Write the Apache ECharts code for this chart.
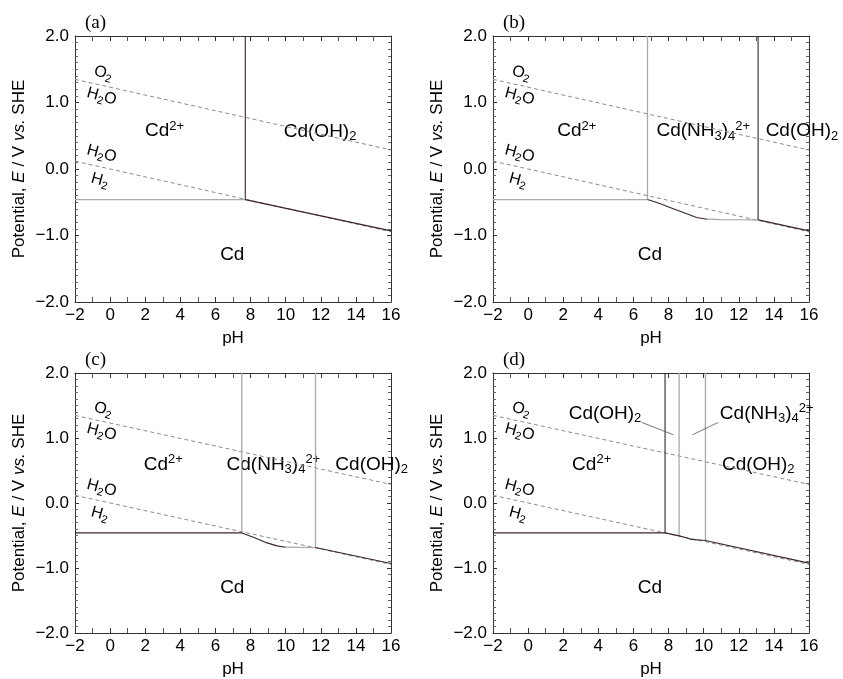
<!DOCTYPE html>
<html>
<head>
<meta charset="utf-8">
<style>
  html, body { margin: 0; padding: 0; background: #fff; }
  #main { width: 843px; height: 679px; }
</style>
<script src="https://cdn.jsdelivr.net/npm/echarts@6/dist/echarts.min.js"></script>
</head>
<body>
<div id="main"></div>
<script>
// water stability lines
var o2Line = [[-2, 1.348], [16, 0.286]];
var h2Line = [[-2, 0.118], [16, -0.944]];
var waterLabels = [
    [-0.39, 1.44, 'O{ws|2}'],
    [-0.48, 1.09, 'H{ws|2}O'],
    [-0.48, 0.23, 'H{ws|2}O'],
    [-0.58, -0.17, 'H{ws|2}']
];

// (a)
var aGray = [[[-2, -0.46], [7.7, -0.46]]];
var aDark = [[[7.7, -0.46], [7.7, 2]], [[7.7, -0.46], [16, -0.93]]];
var aLabels = [[3.1, 0.57, 'Cd{sup|2+}'], [11.96, 0.56, 'Cd(OH){sub|2}'], [6.96, -1.29, 'Cd']];

// (b)
var bGray = [[[-2, -0.46], [6.8, -0.46]], [[6.8, -0.46], [6.8, 2]], [[10.2, -0.755], [11, -0.76], [13.1, -0.765]]];
var bDark = [
    [[6.8, -0.46], [7.5, -0.52], [8.3, -0.6], [9.0, -0.67], [9.6, -0.73], [10.2, -0.755]],
    [[13.1, -0.765], [13.1, 2]],
    [[13.1, -0.765], [16, -0.93]]
];
var bLabels = [[2.77, 0.57, 'Cd{sup|2+}'], [9.98, 0.57, 'Cd(NH{sub|3}){sub|4}{sup|2+}'], [15.6, 0.57, 'Cd(OH){sub|2}'], [6.94, -1.29, 'Cd']];

// (c)
var cGray = [[[7.5, -0.46], [7.5, 2]], [[11.7, -0.685], [11.7, 2]], [[10.0, -0.68], [11.7, -0.685]]];
var cDark = [
    [[-2, -0.46], [7.5, -0.46]],
    [[7.5, -0.46], [8.2, -0.53], [8.9, -0.61], [9.5, -0.66], [10.0, -0.68]],
    [[11.7, -0.685], [16, -0.93]]
];
var cLabels = [[3.03, 0.59, 'Cd{sup|2+}'], [9.3, 0.59, 'Cd(NH{sub|3}){sub|4}{sup|2+}'], [14.9, 0.59, 'Cd(OH){sub|2}'], [6.96, -1.3, 'Cd']];

// (d)
var dGray = [[[8.6, -0.506], [8.6, 2]], [[10.1, -0.578], [10.1, 2]]];
var dDark = [
    [[-2, -0.46], [7.8, -0.46]],
    [[7.8, -0.46], [7.8, 2]],
    [[7.8, -0.46], [8.6, -0.506], [9.0, -0.535], [9.3, -0.56], [10.1, -0.578], [16, -0.925]]
];
var dLeaders = [[[6.47, 1.24], [8.27, 1.05]], [[10.83, 1.24], [9.37, 1.05]]];
var dLabels = [[4.38, 1.38, 'Cd(OH){sub|2}'], [13.59, 1.38, 'Cd(NH{sub|3}){sub|4}{sup|2+}'], [3.62, 0.59, 'Cd{sup|2+}'], [13.11, 0.59, 'Cd(OH){sub|2}'], [6.94, -1.3, 'Cd']];

var panelNames = ['(a)', '(b)', '(c)', '(d)'];
var grids = [
    {left: 75, top: 36, width: 316, height: 266},
    {left: 493, top: 36, width: 316, height: 266},
    {left: 75, top: 373, width: 316, height: 265},
    {left: 493, top: 373, width: 316, height: 265}
];

var FONT = 'Liberation Sans';
var DARK = '#3a2424';
var GRAY = '#aaaaaa';
var INK = '#000';

function minus(v, digits) {
    var s = digits ? Math.abs(v).toFixed(digits) : String(Math.abs(v));
    return v < 0 ? '\u2212' + s : s;
}

var xAxes = [], yAxes = [], series = [], titles = [];

grids.forEach(function (g, i) {
    titles.push({
        text: panelNames[i], left: g.left + 5, top: g.top - 27,
        textStyle: {fontFamily: 'Liberation Serif', fontWeight: 'normal', fontSize: 19, color: INK}
    });
    var lineCfg = {onZero: false, lineStyle: {color: '#333', width: 1}};
    xAxes.push({
        type: 'value', gridIndex: i, min: -2, max: 16, interval: 2, position: 'bottom',
        name: 'pH', nameLocation: 'middle', nameGap: 28,
        nameTextStyle: {fontFamily: FONT, fontSize: 17, color: INK},
        axisLine: lineCfg,
        axisTick: {inside: true, length: 5, lineStyle: {color: '#333'}},
        minorTick: {show: true, splitNumber: 2, length: 5, lineStyle: {color: '#555'}},
        axisLabel: {fontFamily: FONT, fontSize: 17, color: INK, margin: 5, formatter: function (v) { return minus(v); }},
        splitLine: {show: false}
    });
    xAxes.push({
        type: 'value', gridIndex: i, min: -2, max: 16, interval: 2, position: 'top',
        axisLine: lineCfg,
        axisTick: {inside: true, length: 5, lineStyle: {color: '#333'}},
        minorTick: {show: true, splitNumber: 2, length: 5, lineStyle: {color: '#555'}},
        axisLabel: {show: false}, splitLine: {show: false}
    });
    yAxes.push({
        type: 'value', gridIndex: i, min: -2, max: 2, interval: 1, position: 'left',
        name: 'Potential, {i|E} / V {i|vs.} SHE', nameLocation: 'middle', nameGap: 47,
        nameTextStyle: {fontFamily: FONT, fontSize: 17, color: INK,
            rich: {i: {fontFamily: FONT, fontSize: 17, fontStyle: 'italic', color: INK}}},
        axisLine: lineCfg,
        axisTick: {inside: true, length: 4, lineStyle: {color: '#333'}},
        minorTick: {show: true, splitNumber: 10, length: 3, lineStyle: {color: '#666'}},
        axisLabel: {fontFamily: FONT, fontSize: 17, color: INK, margin: 6, formatter: function (v) { return minus(v, 1); }},
        splitLine: {show: false}
    });
    yAxes.push({
        type: 'value', gridIndex: i, min: -2, max: 2, interval: 1, position: 'right',
        axisLine: lineCfg,
        axisTick: {inside: true, length: 4, lineStyle: {color: '#333'}},
        minorTick: {show: true, splitNumber: 10, length: 3, lineStyle: {color: '#666'}},
        axisLabel: {show: false}, splitLine: {show: false}
    });
});

function lineSeries(i, pts, style) {
    return {
        type: 'line', xAxisIndex: 2 * i, yAxisIndex: 2 * i, data: pts,
        symbol: 'none', silent: true, animation: false, lineStyle: style
    };
}

var richMain = {
    sub: {fontFamily: FONT, fontSize: 13, color: INK, verticalAlign: 'bottom', lineHeight: 11, textBorderWidth: 0},
    sup: {fontFamily: FONT, fontSize: 13, color: INK, verticalAlign: 'top', lineHeight: 9, textBorderWidth: 0}
};
var richWater = {
    ws: {fontFamily: FONT, fontSize: 11, color: INK, verticalAlign: 'bottom', lineHeight: 10, textBorderWidth: 0}
};

function labelSeries(i, items, size, rich, rotate) {
    return {
        type: 'scatter', xAxisIndex: 2 * i, yAxisIndex: 2 * i, symbolSize: 0, silent: true, animation: false,
        itemStyle: {color: INK, opacity: 1},
        data: items.map(function (d) {
            return {value: [d[0], d[1]], label: {formatter: d[2]}};
        }),
        label: {
            show: true, position: 'inside', rotate: rotate || 0, opacity: 1,
            fontFamily: FONT, fontSize: size, color: INK, textBorderWidth: 0,
            lineHeight: size + 4, rich: rich
        }
    };
}

var panels = [
    {gray: aGray, dark: aDark, labels: aLabels, leaders: []},
    {gray: bGray, dark: bDark, labels: bLabels, leaders: []},
    {gray: cGray, dark: cDark, labels: cLabels, leaders: []},
    {gray: dGray, dark: dDark, labels: dLabels, leaders: dLeaders}
];

panels.forEach(function (p, i) {
    series.push(lineSeries(i, o2Line, {color: '#8c8c8c', width: 1, type: [4, 3]}));
    series.push(lineSeries(i, h2Line, {color: '#8c8c8c', width: 1, type: [4, 3]}));
    p.gray.forEach(function (pts) { series.push(lineSeries(i, pts, {color: GRAY, width: 1.3})); });
    p.dark.forEach(function (pts) { series.push(lineSeries(i, pts, {color: DARK, width: 1.1})); });
    p.leaders.forEach(function (pts) { series.push(lineSeries(i, pts, {color: '#555', width: 0.8})); });
    series.push(labelSeries(i, waterLabels, 16, richWater, -15));
    series.push(labelSeries(i, p.labels, 19, richMain, 0));
});

var chart = echarts.init(document.getElementById('main'));
chart.setOption({
    backgroundColor: '#fff',
    animation: false,
    title: titles,
    grid: grids,
    xAxis: xAxes,
    yAxis: yAxes,
    series: series
});
</script>
</body>
</html>
